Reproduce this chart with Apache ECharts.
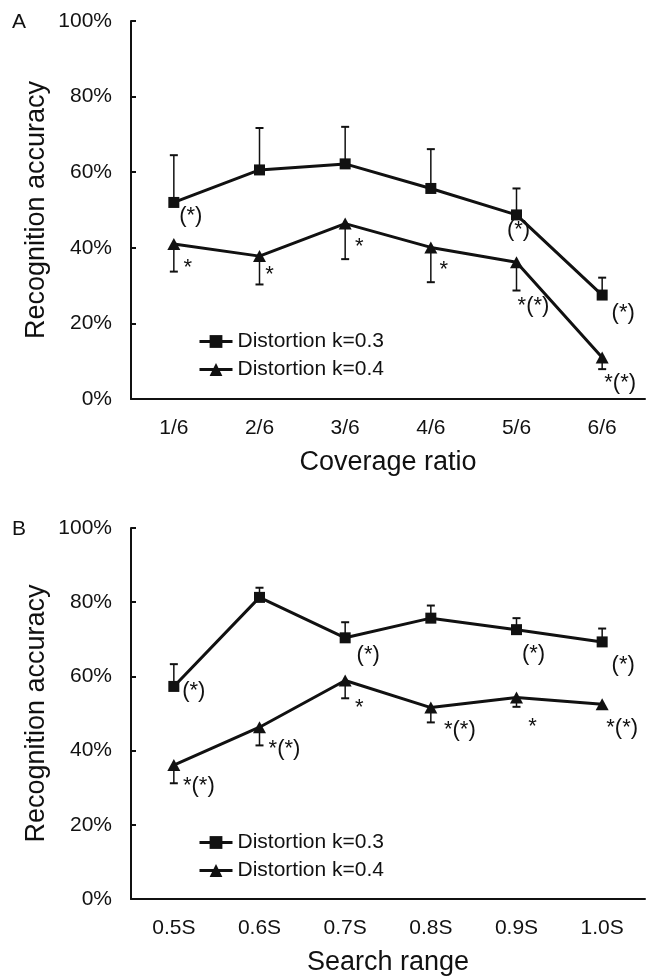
<!DOCTYPE html>
<html>
<head>
<meta charset="utf-8">
<script src="https://cdn.jsdelivr.net/npm/echarts@6/dist/echarts.min.js"></script>
<style>
html,body{margin:0;padding:0;background:#fff;}
#chart{width:648px;height:979px;}
</style>
</head>
<body>
<div id="chart"></div>
<script>
// ---------- data ----------
const catA = ['1/6', '2/6', '3/6', '4/6', '5/6', '6/6'];
const accA03 = [52.0, 60.6, 62.2, 55.7, 48.7, 27.5];
const errA03 = [12.5, 11.1, 9.8, 10.4, 7.0, 4.6];
const accA04 = [41.0, 37.8, 46.4, 40.1, 36.2, 11.0];
const errA04 = [7.3, 7.5, 9.4, 9.2, 7.5, 3.1];
const sigA03 = ['(*)', '', '', '', '(*)', '(*)'];
const sigA04 = ['*', '*', '*', '*', '*(*)', '*(*)'];

const catB = ['0.5S', '0.6S', '0.7S', '0.8S', '0.9S', '1.0S'];
const accB03 = [57.3, 81.3, 70.4, 75.7, 72.6, 69.3];
const errB03 = [6.0, 2.6, 4.2, 3.4, 3.1, 3.6];
const accB04 = [36.1, 46.3, 58.9, 51.6, 54.3, 52.5];
const errB04 = [4.9, 4.9, 4.8, 4.0, 2.5, 1.0];
const sigB03 = ['(*)', '', '(*)', '', '(*)', '(*)'];
const sigB04 = ['*(*)', '*(*)', '*', '*(*)', '*', '*(*)'];

const yTicks = [0, 20, 40, 60, 80, 100];
const seriesNames = ['Distortion k=0.3', 'Distortion k=0.4'];
const panelLabels = ['A', 'B'];
const xTitles = ['Coverage ratio', 'Search range'];
const yTitle = 'Recognition accuracy';

// ---------- layout (annotation placement relative to marker) ----------
const offA03 = [[17, 13], null, null, null, [2, 15], [21, 18]];
const offA04 = [[14, 24], [10, 19], [14, 23], [13, 23], [17, 44], [18, 26]];
const offB03 = [[20, 5], null, [23, 17], null, [17, 24], [21, 23]];
const offB04 = [[25, 21], [25, 22], [14, 27], [29, 22], [16, 29], [20, 24]];

const FONT = '"Liberation Sans", Arial, sans-serif';
const INK = '#111';

function lineData(vals, sigs, offs) {
  return vals.map((v, i) => {
    const item = { value: v };
    if (sigs[i]) {
      item.label = { show: true, formatter: sigs[i], position: 'inside', offset: offs[i] };
    }
    return item;
  });
}

function errRender(dir) {
  return function (params, api) {
    const i = api.value(0), v = api.value(1), e = api.value(2);
    const p0 = api.coord([i, v]);
    const p1 = api.coord([i, v + dir * e]);
    const hw = 4;
    return {
      type: 'group',
      children: [
        { type: 'line', shape: { x1: p0[0], y1: p0[1], x2: p1[0], y2: p1[1] }, style: { stroke: INK, lineWidth: 1.5 } },
        { type: 'line', shape: { x1: p1[0] - hw, y1: p1[1], x2: p1[0] + hw, y2: p1[1] }, style: { stroke: INK, lineWidth: 2 } }
      ]
    };
  };
}

function errSeries(idx, vals, errs, dir) {
  return {
    type: 'custom',
    xAxisIndex: idx, yAxisIndex: idx,
    renderItem: errRender(dir),
    encode: { x: 0, y: 1 },
    data: vals.map((v, i) => [i, v, errs[i]]),
    z: 1,
    silent: true
  };
}

function lineSeries(idx, name, symbol, size, vals, sigs, offs) {
  return {
    type: 'line', name: name,
    xAxisIndex: idx, yAxisIndex: idx,
    symbol: symbol, symbolSize: size,
    lineStyle: { color: INK, width: 3 },
    itemStyle: { color: INK },
    label: { show: false, color: INK, fontSize: 22, fontFamily: FONT },
    data: lineData(vals, sigs, offs),
    z: 3
  };
}

function xAxis(idx, cats) {
  return {
    type: 'category', gridIndex: idx, data: cats,
    axisLine: { lineStyle: { color: INK, width: 2 } },
    axisTick: { inside: true, length: 5, lineStyle: { color: INK, width: 2 } },
    axisLabel: { color: INK, fontSize: 21, fontFamily: FONT, margin: 19 },
    name: xTitles[idx], nameLocation: 'middle', nameGap: 49, nameMoveOverlap: false,
    nameTextStyle: { color: INK, fontSize: 27, fontFamily: FONT, lineHeight: 30 }
  };
}

function yAxis(idx) {
  return {
    type: 'value', gridIndex: idx,
    min: yTicks[0], max: yTicks[yTicks.length - 1], interval: yTicks[1] - yTicks[0],
    splitLine: { show: false },
    axisLine: { show: true, lineStyle: { color: INK, width: 2 } },
    axisTick: { show: true, inside: true, length: 5, lineStyle: { color: INK, width: 2 } },
    axisLabel: { color: INK, fontSize: 21, fontFamily: FONT, margin: 19, formatter: '{value}%' },
    name: yTitle, nameLocation: 'middle', nameGap: 79, nameMoveOverlap: false,
    nameTextStyle: { color: INK, fontSize: 27, fontFamily: FONT, lineHeight: 30 }
  };
}

function legend(top) {
  return {
    data: seriesNames, orient: 'vertical', left: 193, top: top,
    itemWidth: 33, itemHeight: 16, itemGap: 7,
    lineStyle: { width: 3 },
    textStyle: { color: INK, fontSize: 21, fontFamily: FONT },
    selectedMode: false
  };
}

const option = {
  animation: false,
  backgroundColor: '#fff',
  grid: [
    { left: 131, right: 3, top: 21, height: 378 },
    { left: 131, right: 3, top: 528, height: 376 }
  ],
  xAxis: [xAxis(0, catA), xAxis(1, catB)],
  yAxis: [yAxis(0), yAxis(1)],
  legend: [legend(326), legend(827)],
  graphic: [
    { type: 'text', left: 12, top: 12, style: { text: panelLabels[0], fontSize: 21, fontFamily: FONT, fill: INK } },
    { type: 'text', left: 12, top: 519, style: { text: panelLabels[1], fontSize: 21, fontFamily: FONT, fill: INK } }
  ],
  series: [
    errSeries(0, accA03, errA03, 1),
    errSeries(0, accA04, errA04, -1),
    lineSeries(0, seriesNames[0], 'rect', 11, accA03, sigA03, offA03),
    lineSeries(0, seriesNames[1], 'triangle', [13, 12], accA04, sigA04, offA04),
    errSeries(1, accB03, errB03, 1),
    errSeries(1, accB04, errB04, -1),
    lineSeries(1, seriesNames[0], 'rect', 11, accB03, sigB03, offB03),
    lineSeries(1, seriesNames[1], 'triangle', [13, 12], accB04, sigB04, offB04)
  ]
};

const chart = echarts.init(document.getElementById('chart'), null, { renderer: 'canvas' });
chart.setOption(option);
</script>
</body>
</html>
